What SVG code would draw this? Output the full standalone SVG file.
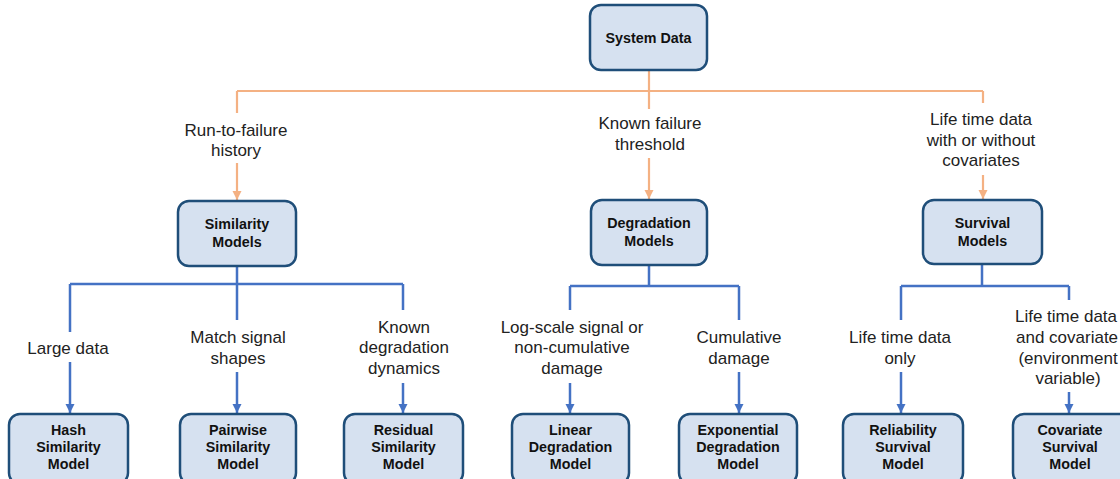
<svg xmlns="http://www.w3.org/2000/svg" width="1120" height="479" viewBox="0 0 1120 479">
<defs>
<marker id="ao" markerUnits="userSpaceOnUse" markerWidth="10" markerHeight="10" refX="9" refY="5" orient="auto"><path d="M0,0.5 L9,5 L0,9.5 z" fill="#f4b183"/></marker>
<marker id="ab" markerUnits="userSpaceOnUse" markerWidth="10" markerHeight="10" refX="9" refY="5" orient="auto"><path d="M0,0.5 L9,5 L0,9.5 z" fill="#4472c4"/></marker>
</defs>
<style>
.box{fill:#d6e1f0;stroke:#1f4e79;stroke-width:2.5}
.bt{font-family:"Liberation Sans",Arial,sans-serif;font-weight:bold;font-size:14.3px;fill:#111;text-anchor:middle}
.lt{font-family:"Liberation Sans",Arial,sans-serif;font-size:17px;fill:#222;text-anchor:middle}
.o{stroke:#f4b183;stroke-width:2.2;fill:none}
.b{stroke:#4472c4;stroke-width:2.5;fill:none}
</style>
<rect width="1120" height="479" fill="#fff"/>
<g id="connectors">
<path class="o" d="M649,70 V91 M237,91 H983 M237,91 V113 M649,91 V109 M983,91 V103"/>
<path class="o" d="M237,163 V200" marker-end="url(#ao)"/>
<path class="o" d="M649,158 V199" marker-end="url(#ao)"/>
<path class="o" d="M983,175 V199" marker-end="url(#ao)"/>
<path class="b" d="M237,266 V284 M70,284 H403 M70,284 V332 M237,284 V320 M403,284 V310"/>
<path class="b" d="M70,362 V413" marker-end="url(#ab)"/>
<path class="b" d="M237,372 V413" marker-end="url(#ab)"/>
<path class="b" d="M403,383 V413" marker-end="url(#ab)"/>
<path class="b" d="M649,265 V286 M570,286 H739 M570,286 V310 M739,286 V320"/>
<path class="b" d="M570,383 V413" marker-end="url(#ab)"/>
<path class="b" d="M739,372 V413" marker-end="url(#ab)"/>
<path class="b" d="M982,264 V286 M901,286 H1069 M901,286 V320 M1069,286 V300"/>
<path class="b" d="M901,372 V413" marker-end="url(#ab)"/>
<path class="b" d="M1069,392 V413" marker-end="url(#ab)"/>
</g>
<g id="labels">
<text class="lt" x="236" y="136">Run-to-failure</text>
<text class="lt" x="236" y="156">history</text>
<text class="lt" x="650" y="129">Known failure</text>
<text class="lt" x="650" y="150">threshold</text>
<text class="lt" x="981" y="125">Life time data</text>
<text class="lt" x="981" y="146">with or without</text>
<text class="lt" x="981" y="166">covariates</text>
<text class="lt" x="68" y="354">Large data</text>
<text class="lt" x="238" y="343">Match signal</text>
<text class="lt" x="238" y="364">shapes</text>
<text class="lt" x="404" y="333">Known</text>
<text class="lt" x="404" y="353">degradation</text>
<text class="lt" x="404" y="374">dynamics</text>
<text class="lt" x="572" y="333">Log-scale signal or</text>
<text class="lt" x="572" y="353">non-cumulative</text>
<text class="lt" x="572" y="374">damage</text>
<text class="lt" x="739" y="343">Cumulative</text>
<text class="lt" x="739" y="364">damage</text>
<text class="lt" x="900" y="343">Life time data</text>
<text class="lt" x="900" y="364">only</text>
<text class="lt" x="1066" y="322">Life time data</text>
<text class="lt" x="1016" y="343" style="text-anchor:start">and covariate</text>
<text class="lt" x="1068" y="364">(environment</text>
<text class="lt" x="1068" y="384">variable)</text>
</g>
<g id="system-data"><rect class="box" x="590" y="5" width="117" height="65" rx="11"/><text class="bt" x="648.5" y="43">System Data</text></g>
<g id="similarity-models"><rect class="box" x="178" y="201" width="118" height="65" rx="11"/><text class="bt" x="237" y="229">Similarity</text><text class="bt" x="237" y="247">Models</text></g>
<g id="degradation-models"><rect class="box" x="591" y="200" width="116" height="65" rx="11"/><text class="bt" x="649" y="228">Degradation</text><text class="bt" x="649" y="246">Models</text></g>
<g id="survival-models"><rect class="box" x="923" y="200" width="119" height="64" rx="11"/><text class="bt" x="982.5" y="228">Survival</text><text class="bt" x="982.5" y="246">Models</text></g>
<g id="hash-similarity-model"><rect class="box" x="9" y="414" width="119" height="70" rx="11"/><text class="bt" x="68.5" y="435">Hash</text><text class="bt" x="68.5" y="452">Similarity</text><text class="bt" x="68.5" y="469">Model</text></g>
<g id="pairwise-similarity-model"><rect class="box" x="180" y="414" width="116" height="70" rx="11"/><text class="bt" x="238" y="435">Pairwise</text><text class="bt" x="238" y="452">Similarity</text><text class="bt" x="238" y="469">Model</text></g>
<g id="residual-similarity-model"><rect class="box" x="344" y="414" width="119" height="70" rx="11"/><text class="bt" x="403.5" y="435">Residual</text><text class="bt" x="403.5" y="452">Similarity</text><text class="bt" x="403.5" y="469">Model</text></g>
<g id="linear-degradation-model"><rect class="box" x="512" y="414" width="117" height="70" rx="11"/><text class="bt" x="570.5" y="435">Linear</text><text class="bt" x="570.5" y="452">Degradation</text><text class="bt" x="570.5" y="469">Model</text></g>
<g id="exponential-degradation-model"><rect class="box" x="679" y="414" width="118" height="70" rx="11"/><text class="bt" x="738" y="435">Exponential</text><text class="bt" x="738" y="452">Degradation</text><text class="bt" x="738" y="469">Model</text></g>
<g id="reliability-survival-model"><rect class="box" x="843" y="414" width="120" height="70" rx="11"/><text class="bt" x="903" y="435">Reliability</text><text class="bt" x="903" y="452">Survival</text><text class="bt" x="903" y="469">Model</text></g>
<g id="covariate-survival-model"><rect class="box" x="1013" y="414" width="119" height="70" rx="11"/><text class="bt" x="1070" y="435">Covariate</text><text class="bt" x="1070" y="452">Survival</text><text class="bt" x="1070" y="469">Model</text></g>
</svg>
